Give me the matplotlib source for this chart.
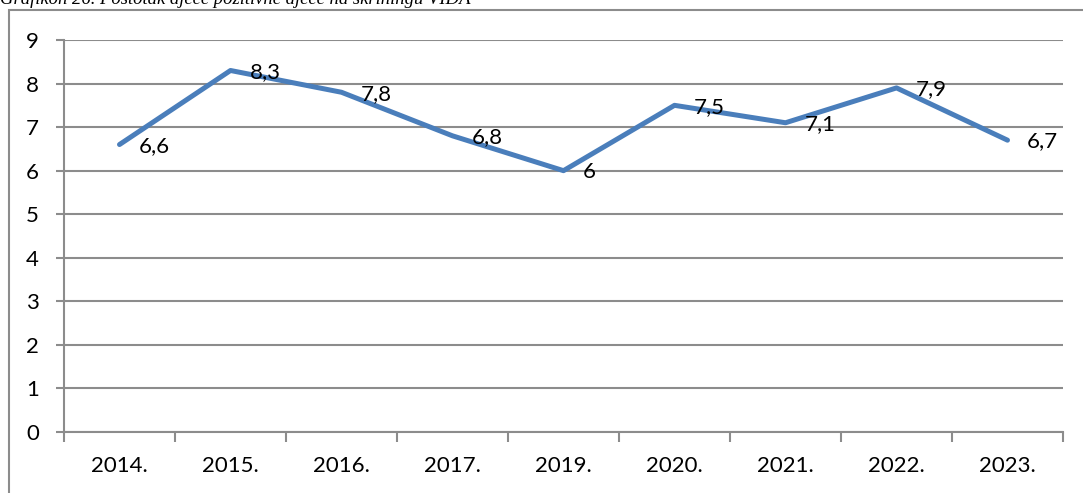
import matplotlib.pyplot as plt
from matplotlib.patches import Rectangle

categories = ["2014.", "2015.", "2016.", "2017.", "2019.", "2020.", "2021.", "2022.", "2023."]
values = [6.6, 8.3, 7.8, 6.8, 6.0, 7.5, 7.1, 7.9, 6.7]
labels = ["6,6", "8,3", "7,8", "6,8", "6", "7,5", "7,1", "7,9", "6,7"]
yticks = list(range(0, 10))

W, H = 1083, 493
fig = plt.figure(figsize=(W / 100, H / 100), dpi=100)
plt.rcParams['font.family'] = ['Lato', 'DejaVu Sans']
FS = 16

# plot area in pixels
x0, x1 = 64, 1063
ytop, ybot = 40, 432
ax = fig.add_axes([x0 / W, 1 - ybot / H, (x1 - x0) / W, (ybot - ytop) / H])

# outer chart border
fig.patches.append(Rectangle((9 / W, -0.05), 1.1, 1 - 10 / H + 0.05, transform=fig.transFigure,
                             fill=False, edgecolor='#8c8c8c', linewidth=1.5))

# title (cut off at top, as in the source)
fig.text(0 / W, 1 - 4 / H, "Grafikon 26. Postotak djece pozitivne djece na skriningu VIDA",
         family='Liberation Serif', style='italic', fontsize=13.4, va='baseline', ha='left')

xs = list(range(len(categories)))
ax.plot(xs, values, color='#4a7ebb', linewidth=3.6, solid_capstyle='round', zorder=3)
for x, v, lab in zip(xs, values, labels):
    ax.annotate(lab, (x, v), xytext=(14, -1), textcoords='offset points',
                ha='left', va='center', fontsize=FS, color='black', zorder=4)

ax.set_xlim(-0.5, len(categories) - 0.5)
ax.set_ylim(0, 9)
ax.set_yticks(yticks)
ax.set_yticklabels([str(t) for t in yticks], fontsize=FS)
ax.set_xticks(xs)
ax.set_xticklabels(categories, fontsize=FS)
ax.set_xticks([i - 0.5 for i in range(len(categories) + 1)], minor=True)
ax.tick_params(axis='x', which='major', length=0, pad=17)
ax.tick_params(axis='x', which='minor', length=7, width=1.5, color='#8c8c8c', direction='out')
ax.tick_params(axis='y', length=6, width=1.5, color='#8c8c8c', pad=12)
ax.yaxis.grid(True, color='#8c8c8c', linewidth=1.5)
ax.set_axisbelow(True)
for s in ['top', 'right']:
    ax.spines[s].set_visible(False)
for s in ['left', 'bottom']:
    ax.spines[s].set_color('#8c8c8c')
    ax.spines[s].set_linewidth(1.5)

fig.savefig('out.png', dpi=100)
